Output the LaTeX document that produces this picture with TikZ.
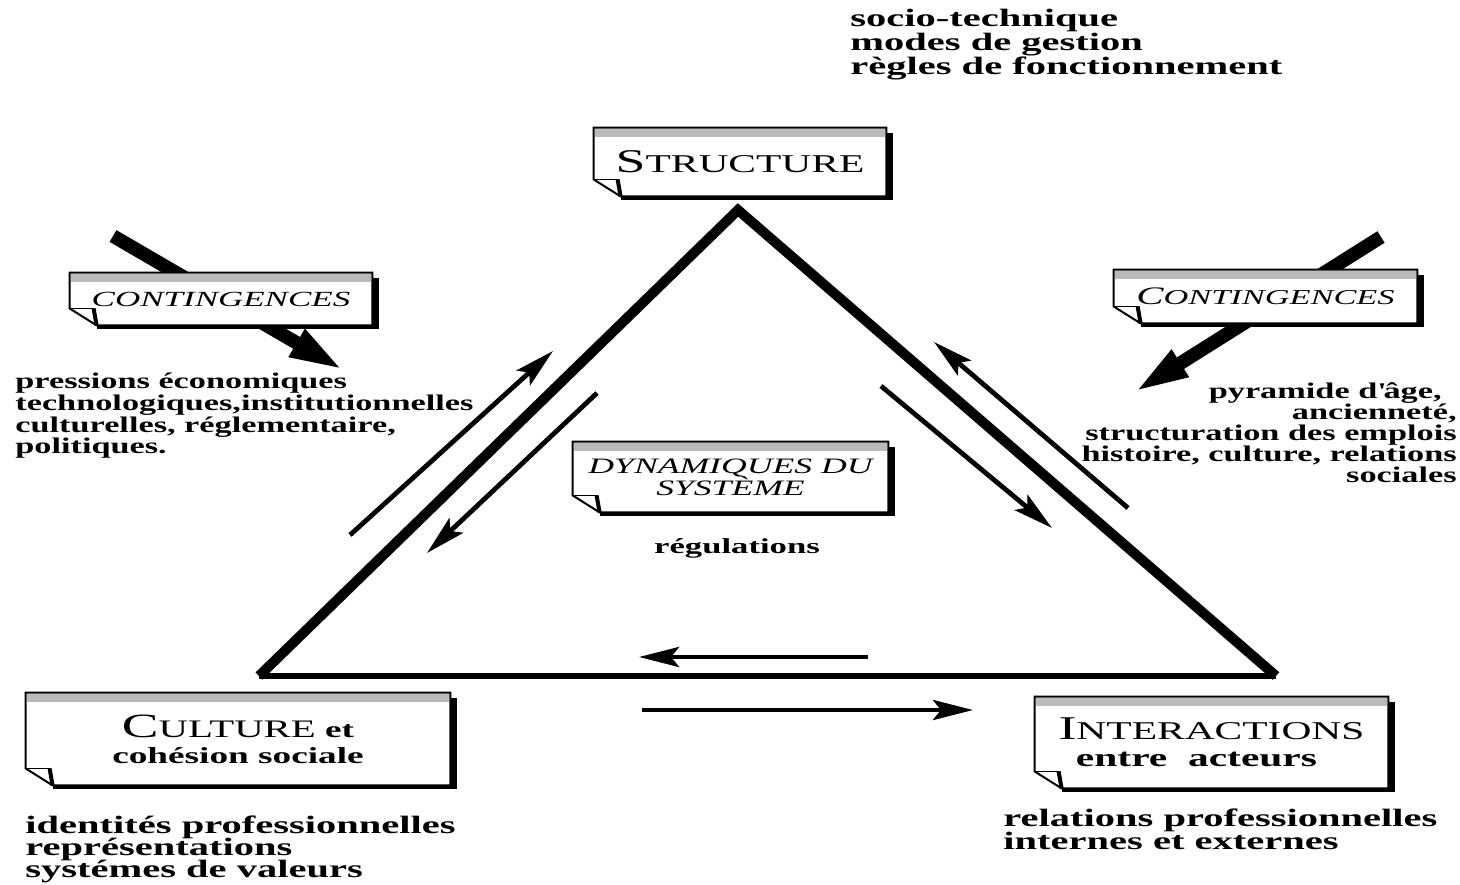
\documentclass[tikz,border=0pt]{standalone}
\usepackage{fontspec}
\setmainfont{Liberation Serif}[FakeStretch=1.62]
\newfontfamily\sidefont{Liberation Serif}[FakeStretch=1.53]
\usetikzlibrary{arrows.meta,calc}
\pgfdeclarelayer{back}
\pgfdeclarelayer{bg}
\pgfsetlayers{back,bg,main}
\setlength\lineskiplimit{-30pt}
\setlength\lineskip{0pt}
\newcommand\notedeco[1]{%
 \begin{pgfonlayer}{bg}
  \fill[black] ($(#1.north east)+(0,5)$) rectangle ($(#1.south east)+(7,4)$);
  \fill[black] ($(#1.south west)+(27,0)$) rectangle ($(#1.south east)+(7,4)$);
  \draw[fill=white,line width=1pt] (#1.north west) -- (#1.north east) -- (#1.south east)
     -- ($(#1.south west)+(27,0)$) -- ($(#1.south west)+(0,-17)$) -- cycle;
  \fill[black!27] ($(#1.north west)+(1.5,1.5)$) rectangle ($(#1.north east)+(-1.5,9)$);
  \draw[line width=0.6pt] ($(#1.south west)+(0,-17)$) -- ($(#1.south west)+(24,-17)$);
  \draw[line width=2pt] ($(#1.south west)+(24,-17)$) -- ($(#1.south west)+(27,0)$);
 \end{pgfonlayer}}
\tikzset{
 body/.style={inner sep=0pt,font=\fontsize{12.5}{11.25}\selectfont\bfseries},
 side/.style={inner sep=0pt,font=\sidefont\fontsize{11.2}{10.8}\selectfont\bfseries},
 notebox/.style={inner sep=0pt,align=center},
 thinarrow/.style={line width=2.4pt,-{Stealth[length=20pt,width=10pt,inset=4pt]}},
 bigarrow/.style={line width=6.8pt,-{Triangle[length=28pt,width=14pt]}},
}
\begin{document}
\begin{tikzpicture}[x=0.5pt,y=-0.5pt]
\useasboundingbox (0,0) rectangle (1460,884);

% ---------- boxes ----------
\node[notebox,minimum width=146pt,minimum height=34pt] (structure) at (740,162)
  {{\fontsize{16.6}{16}\selectfont S}{\fontsize{12.8}{13}\selectfont TRUCTURE}};
\notedeco{structure}

\node[notebox,minimum width=151pt,minimum height=26pt,font=\fontsize{10.8}{11}\selectfont\itshape] (contL) at (221,299)
  {CONTINGENCES};
\notedeco{contL}

\node[notebox,minimum width=151.5pt,minimum height=26.5pt,font=\fontsize{10.6}{11}\selectfont\itshape] (contR) at (1265.5,296.5)
  {{\fontsize{12.6}{12}\selectfont C}ONTINGENCES};
\notedeco{contR}

\node[notebox,minimum width=157.5pt,minimum height=35pt,font=\fontsize{11}{11}\selectfont\itshape] (dyn) at (730.5,477)
  {DYNAMIQUES DU\\SYSTÈME};
\notedeco{dyn}

\node[notebox,minimum width=212pt,minimum height=46pt,font=\fontsize{11.5}{13}\selectfont] (culture) at (238,739)
  {{\fontsize{17}{16}\selectfont C}{\fontsize{12.6}{12}\selectfont ULTURE} \textbf{et}\\\textbf{cohésion sociale}};
\notedeco{culture}

\node[notebox,minimum width=176.5pt,minimum height=45.5pt,font=\fontsize{12.8}{13.5}\selectfont] (inter) at (1211.5,742.5)
  {{\fontsize{16.6}{16}\selectfont I}{\fontsize{12.8}{13}\selectfont NTERACTIONS}\\\textbf{entre\ \ acteurs}\hspace*{15pt}};
\notedeco{inter}

% ---------- big contingency arrows ----------
\coordinate (bigLs) at (113,236);
\coordinate (bigLe) at (345,371);
\coordinate (bigRs) at (1381,237);
\coordinate (bigRe) at (1133,393);
\begin{pgfonlayer}{back}
 \draw[bigarrow] (bigLs) -- (bigLe);
 \draw[bigarrow] (bigRs) -- (bigRe);
\end{pgfonlayer}

% ---------- triangle ----------
\coordinate (apex) at (738,210);
\coordinate (bl) at (259,676);
\coordinate (br) at (1276,676);
\draw[line width=3pt] (bl) -- (br);
\draw[line width=5pt,line join=miter] (bl) -- (apex) -- (br);

% ---------- thin arrows ----------
\coordinate (a1s) at (350,535);  \coordinate (a1e) at (553,351);
\coordinate (a2s) at (597,393);  \coordinate (a2e) at (427,553);
\coordinate (a3s) at (881,386);  \coordinate (a3e) at (1052,528);
\coordinate (a4s) at (1128,508); \coordinate (a4e) at (934,342);
\coordinate (a5s) at (868,657);  \coordinate (a5e) at (639,657);
\coordinate (a6s) at (642,710);  \coordinate (a6e) at (973,710);
\draw[thinarrow] (a1s) -- (a1e);
\draw[thinarrow] (a2s) -- (a2e);
\draw[thinarrow] (a3s) -- (a3e);
\draw[thinarrow] (a4s) -- (a4e);
\draw[thinarrow] (a5s) -- (a5e);
\draw[thinarrow] (a6s) -- (a6e);

% ---------- texts ----------
\node[body,anchor=north west,align=left,font=\fontsize{12.5}{11.9}\selectfont\bfseries] (topt) at (850,9)
  {socio-technique\\modes de gestion\\règles de fonctionnement};
\node[side,anchor=north west,align=left] (leftt) at (15,373)
  {pressions économiques\\technologiques,institutionnelles\\culturelles, réglementaire,\\politiques.};
\node[side,anchor=north east,align=right,font=\sidefont\fontsize{11.2}{10.5}\selectfont\bfseries] (rightt) at (1457,382)
  {pyramide d\textquotesingle âge,\hspace*{7.5pt}\\ancienneté,\hspace*{8.5pt}\\structuration des emplois\hspace*{5pt}\\histoire, culture, relations\\sociales};
\node[body,anchor=base,font=\fontsize{10.7}{12}\selectfont\bfseries] (regul) at (737,553) {régulations};
\node[body,anchor=north west,align=left,font=\fontsize{12.5}{11}\selectfont\bfseries] (botl) at (25,815)
  {identités professionnelles\\représentations\\systémes de valeurs};
\node[body,anchor=north west,align=left,font=\fontsize{12.5}{11.5}\selectfont\bfseries] (botr) at (1003,808)
  {relations professionnelles\\internes et externes};
\end{tikzpicture}
\end{document}
